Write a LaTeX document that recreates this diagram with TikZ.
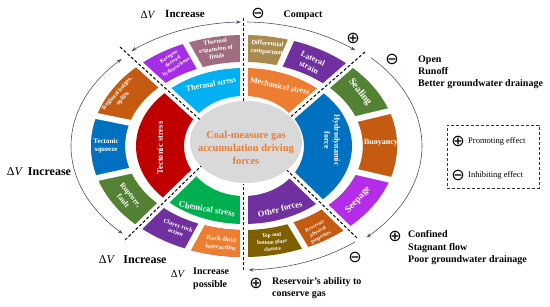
\documentclass[tikz,border=0pt]{standalone}
\usepackage{fontspec}
\setmainfont{Liberation Serif}
\newfontfamily\symf{DejaVu Sans}
\usetikzlibrary{calc,arrows.meta}
\definecolor{cyanT}{HTML}{00B0F0}
\definecolor{orangeM}{HTML}{ED7D31}
\definecolor{blueH}{HTML}{0070C0}
\definecolor{purpleO}{HTML}{7030A0}
\definecolor{greenC}{HTML}{00B050}
\definecolor{redT}{HTML}{C00000}
\definecolor{violetK}{HTML}{A52DE8}
\definecolor{mauveE}{HTML}{A06C80}
\definecolor{khakiD}{HTML}{A88A4E}
\definecolor{greenS}{HTML}{548235}
\definecolor{brownB}{HTML}{C55A11}
\definecolor{violetP}{HTML}{B42BE8}
\definecolor{oliveT}{HTML}{7F6000}
\definecolor{grayE}{HTML}{D9D9D9}
\definecolor{arcc}{HTML}{44546A}
\newcommand\fsz[2]{\fontsize{#1}{#2}\selectfont\bfseries}
\tikzset{
  ringin/.style={insert path={(244,146) ellipse [x radius=108, y radius=78] (244,146) ellipse [x radius=60, y radius=50]}},
  ringout/.style={insert path={(244,146) ellipse [x radius=153, y radius=111] (244,146) ellipse [x radius=119, y radius=84]}},
  seg/.style={text=white, align=center, inner sep=0pt},
  ext/.style={text=black, inner sep=0pt, align=left},
  gapline/.style={white, line width=6pt},
  bandline/.style={white, line width=8pt},
  dline/.style={black, line width=1pt, dash pattern=on 3pt off 2pt},
  arcline/.style={arcc, line width=0.6pt},
  tip/.style={arcline, -{Stealth[length=5pt,width=3.5pt]}},
  tips/.style={arcline, {Stealth[length=5pt,width=3.5pt]}-{Stealth[length=5pt,width=3.5pt]}},
  sym/.style={inner sep=0pt, font=\symf\fontsize{16}{16}\selectfont},
}
\begin{document}
\begin{tikzpicture}[x=1pt,y=-1pt]
\useasboundingbox (0,0) rectangle (550,307);
\coordinate (C) at (244,146);

% ---------- left sector
\begin{scope}
\clip (225.2,142.6) -- (0,-62.1) -- (0,361.4) -- cycle;
\fill[redT, even odd rule, ringin];
\fill[brownB, even odd rule, ringout];
\begin{scope}\clip (C) -- ($(C)+(168.5:300pt)$) -- ($(C)+(192.3:300pt)$) -- cycle;
\fill[blueH, even odd rule, ringout];\end{scope}
\begin{scope}\clip (C) -- ($(C)+(192.3:300pt)$) -- ($(C)+(260:300pt)$) -- cycle;
\fill[greenS, even odd rule, ringout];\end{scope}
\end{scope}
% ---------- top-left sector
\begin{scope}
\clip (243.5,159.3) -- (0,-62.1) -- (243.5,-62.1) -- cycle;
\fill[cyanT, even odd rule, ringin];
\fill[mauveE, even odd rule, ringout];
\begin{scope}\clip (C) -- ($(C)+(119.5:300pt)$) -- ($(C)+(175:300pt)$) -- cycle;
\fill[violetK, even odd rule, ringout];\end{scope}
\end{scope}
% ---------- top-right sector
\begin{scope}
\clip (243.5,157.9) -- (550,-109.1) -- (243.5,-109.1) -- cycle;
\fill[orangeM, even odd rule, ringin];
\fill[khakiD, even odd rule, ringout];
\begin{scope}\clip (C) -- ($(C)+(66:300pt)$) -- ($(C)+(5:300pt)$) -- cycle;
\fill[purpleO, even odd rule, ringout];\end{scope}
\end{scope}
% ---------- right sector
\begin{scope}
\clip (259.7,143.7) -- (550,-109.1) -- (550,424.8) -- cycle;
\fill[blueH, even odd rule, ringin];
\fill[greenS, even odd rule, ringout];
\begin{scope}\clip (C) -- ($(C)+(13.5:300pt)$) -- ($(C)+(-13:300pt)$) -- cycle;
\fill[brownB, even odd rule, ringout];\end{scope}
\begin{scope}\clip (C) -- ($(C)+(-13:300pt)$) -- ($(C)+(-80:300pt)$) -- cycle;
\fill[violetP, even odd rule, ringout];\end{scope}
\end{scope}
% ---------- bottom-right sector
\begin{scope}
\clip (243.5,128.1) -- (550,424.8) -- (243.5,424.8) -- cycle;
\fill[purpleO, even odd rule, ringin];
\fill[oliveT, even odd rule, ringout];
\begin{scope}\clip (C) -- ($(C)+(-59:300pt)$) -- ($(C)+(-5:300pt)$) -- cycle;
\fill[brownB, even odd rule, ringout];\end{scope}
\end{scope}
% ---------- bottom-left sector
\begin{scope}
\clip (243.5,124.9) -- (0,361.4) -- (243.5,361.4) -- cycle;
\fill[greenC, even odd rule, ringin];
\fill[purpleO, even odd rule, ringout];
\begin{scope}\clip (C) -- ($(C)+(241.5:300pt)$) -- ($(C)+(280:300pt)$) -- cycle;
\fill[orangeM, even odd rule, ringout];\end{scope}
\end{scope}

% ---------- gaps inside sectors
\draw[gapline] ($(C)+(119.5:86pt)$) -- ($(C)+(119.5:128pt)$);
\draw[gapline] ($(C)+(66:84pt)$) -- ($(C)+(66:128pt)$);
\draw[gapline] ($(C)+(13.5:110pt)$) -- ($(C)+(13.5:162pt)$);
\draw[gapline] ($(C)+(-13:110pt)$) -- ($(C)+(-13:162pt)$);
\draw[gapline] ($(C)+(-59:87pt)$) -- ($(C)+(-59:128pt)$);
\draw[gapline] ($(C)+(241.5:86pt)$) -- ($(C)+(241.5:128pt)$);
\draw[gapline] ($(C)+(168.5:111pt)$) -- ($(C)+(168.5:162pt)$);
\draw[gapline] ($(C)+(192.3:111pt)$) -- ($(C)+(192.3:162pt)$);

% ---------- sector bands
\coordinate (ulo) at (120,47);   \coordinate (uli) at (199.5,119.3);
\coordinate (llo) at (125,240);  \coordinate (lli) at (201,166.2);
\coordinate (uro) at (365,52);   \coordinate (uri) at (290,117.4);
\coordinate (lro) at (357,238);  \coordinate (lri) at (287,170.3);
\coordinate (vto) at (243.5,18); \coordinate (vti) at (243.5,102);
\coordinate (vbo) at (243.5,270);\coordinate (vbi) at (243.5,184);
\draw[bandline] (ulo) -- (uli);
\draw[bandline] (llo) -- (lli);
\draw[bandline] (uro) -- (uri);
\draw[bandline] (lro) -- (lri);
\draw[bandline] (vto) -- (vti);
\draw[bandline] (vbo) -- (vbi);

% ---------- core
\fill[grayE] (246,142) ellipse [x radius=56, y radius=41];
\node[align=center, text=orangeM, inner sep=0pt, font=\fsz{10.5}{13}] (core) at (246,148) {Coal-measure gas\\accumulation driving\\forces};

% ---------- dashed dividers
\draw[dline] (ulo) -- (uli);
\draw[dline] (llo) -- (lli);
\draw[dline] (uro) -- (uri);
\draw[dline] (lro) -- (lri);
\draw[dline] (vto) -- (vti);
\draw[dline] (vbo) -- (vbi);

% ---------- arcs
\draw[tips] plot[domain=130:91, samples=40] ({244+175*cos(\x)},{146-124*sin(\x)});
\draw[tip] plot[domain=89:50.5, samples=40] ({244+175*cos(\x)},{146-124*sin(\x)});
\draw[tip] plot[domain=44.5:-46.5, samples=60] ({244+178*cos(\x)},{146-126*sin(\x)});
\draw[tip] plot[domain=-50.5:-88.5, samples=40] ({244+175*cos(\x)},{146-124*sin(\x)});
\draw[tips] plot[domain=135:225.5, samples=60] ({244+173*cos(\x)},{146-123*sin(\x)});

% ---------- inner ring labels
\node[seg, rotate=10, font=\fsz{8}{9}] (lThermal) at (211,84) {Thermal stress};
\node[seg, rotate=-12, font=\fsz{8}{9}] (lMech) at (280,86) {Mechanical stress};
\node[seg, rotate=90, font=\fsz{8.5}{10}] (lTect) at (160,148) {Tectonic stress};
\node[seg, rotate=-90, font=\fsz{8}{10}] (lHydro) at (332,140) {Hydrodynamic\\force};
\node[seg, rotate=-10, font=\fsz{8.5}{10}] (lChem) at (207,209) {Chemical stress};
\node[seg, rotate=14, font=\fsz{8.5}{10}] (lOther) at (280,209) {Other forces};

% ---------- outer ring labels
\node[seg, rotate=33, font=\fsz{5.3}{6.4}] (lKero) at (173,62) {Kerogen-\\derived\\hydrocarbons};
\node[seg, rotate=7, font=\fsz{6.3}{7.4}] (lExp) at (216,49) {Thermal\\expansion of\\fluids};
\node[seg, rotate=-5, font=\fsz{6.5}{8}] (lDiff) at (267,48) {Differential\\compaction};
\node[seg, rotate=-25, font=\fsz{8}{9.5}] (lLat) at (311,63) {Lateral\\strain};
\node[seg, rotate=-52, font=\fsz{10}{12}] (lSeal) at (360,92) {Sealing};
\node[seg, font=\fsz{8}{9}] (lBuoy) at (381,143) {Buoyancy};
\node[seg, rotate=48, font=\fsz{9.5}{11}] (lSeep) at (358,200) {Seepage};
\node[seg, rotate=4, font=\fsz{5.5}{7}] (lTop) at (272,242) {Top and\\bottom plate\\closure};
\node[seg, rotate=28, font=\fsz{5}{6.2}] (lRes) at (318,232) {Reservoir\\physical\\properties};
\node[seg, rotate=-20, font=\fsz{6}{7.5}] (lClay) at (177,229) {Clayey rock\\action};
\node[seg, rotate=-5, font=\fsz{6.5}{8}] (lRock) at (221,243) {Rock-fluid\\interaction};
\node[seg, rotate=48, font=\fsz{6}{7.5}] (lReg) at (120,96) {Regional bulges,\\uplifts};
\node[seg, font=\fsz{7}{8.5}] (lSqz) at (106,146) {Tectonic\\squeeze};
\node[seg, rotate=-50, font=\fsz{7.5}{9.5}] (lRup) at (127,198) {Rupture,\\fault};

% ---------- outside labels
\node[ext, font=\fontsize{11}{13}\selectfont] (dv1) at (148,15) {Δ\textit{V}};
\node[ext, font=\fsz{11}{13}] (inc1) at (185,14) {Increase};
\node[sym] (s1) at (258,13) {⊖};
\node[ext, font=\fsz{10}{12}] (cmp) at (303,15) {Compact};
\node[sym] (s2) at (353,38) {⊕};
\node[sym] (s3) at (392,59) {⊖};
\node[ext, anchor=west, font=\fsz{10}{12}] (open) at (418,72) {Open\\Runoff\\Better groundwater drainage};
\node[sym] (s4) at (395,236) {⊕};
\node[ext, anchor=west, font=\fsz{10}{12.5}] (conf) at (408,248) {Confined\\Stagnant flow\\Poor groundwater drainage};
\node[sym] (s5) at (355,257) {⊖};
\node[sym] (s6) at (256,283) {⊕};
\node[ext, anchor=west, font=\fsz{10}{12}] (res) at (272,288) {Reservoir's ability to\\conserve gas};
\node[ext, font=\fontsize{10.5}{12}\selectfont] (dv2) at (178,274) {Δ\textit{V}};
\node[ext, anchor=west, font=\fsz{10}{13}] (inc2) at (193,278.5) {Increase\\possible};
\node[ext, font=\fontsize{12}{14}\selectfont] (dv3) at (107,260) {Δ\textit{V}};
\node[ext, font=\fsz{12}{14}] (inc3) at (145,260) {Increase};
\node[ext, font=\fontsize{12}{14}\selectfont] (dv4) at (15,172) {Δ\textit{V}};
\node[ext, font=\fsz{12}{14}] (inc4) at (49.5,172) {Increase};

% ---------- legend
\node[draw=black!80, line width=0.8pt, dash pattern=on 3pt off 2pt, minimum width=92pt, minimum height=63pt, inner sep=0pt] (legend) at (493,156.5) {};
\node[sym] (lgp) at (458,141) {⊕};
\node[ext, anchor=west, font=\fontsize{8.5}{10}\selectfont] (lgpt) at (468,141) {Promoting effect};
\node[sym] (lgm) at (458,175) {⊖};
\node[ext, anchor=west, font=\fontsize{8.5}{10}\selectfont] (lgmt) at (468,175) {Inhibiting effect};
\end{tikzpicture}
\end{document}
